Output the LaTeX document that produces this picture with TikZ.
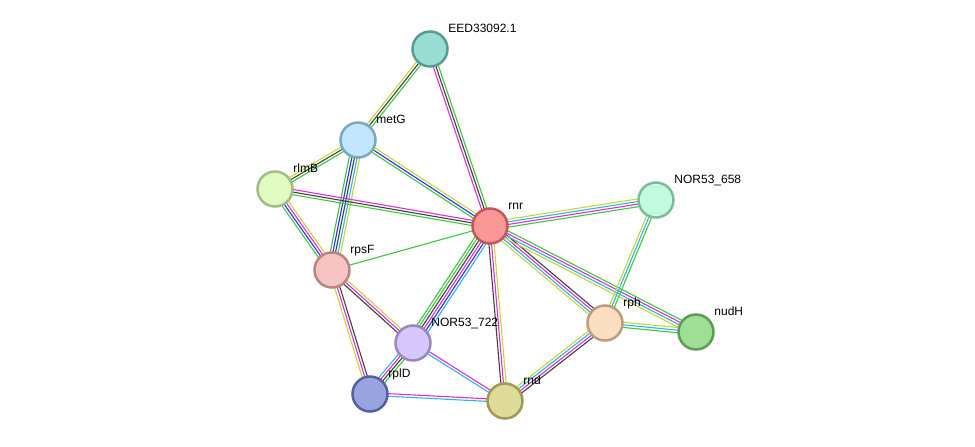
\documentclass[tikz,border=0pt]{standalone}
\usepackage{fontspec}
\setmainfont{Liberation Sans}
\usetikzlibrary{calc,backgrounds}

\definecolor{evgreen}{HTML}{3CC83C}
\definecolor{evyellow}{HTML}{C5D63A}
\definecolor{evblack}{HTML}{404040}
\definecolor{evmagenta}{HTML}{DC2EDC}
\definecolor{evcyan}{HTML}{2DB5E6}
\definecolor{evblue}{HTML}{2E2EF0}

% one coloured line per kind of evidence, side by side
\newcommand{\evlinks}[4]{%
  \foreach \col [count=\i] in {#4} {
    \pgfmathsetmacro\off{(\i-(#3+1)/2)*2.6}
    \draw[ev line, draw=\col] ($(#1)!\off pt!90:(#2)$) -- ($(#2)!\off pt!-90:(#1)$);
  }}

\begin{document}
\begin{tikzpicture}[x=1pt,y=-1pt,
    prot/.style={circle,minimum size=35pt,inner sep=0pt,line width=2.5pt},
    ev line/.style={line width=1.1pt},
    every label/.style={font=\fontsize{12}{14}\selectfont,inner sep=1pt,text depth=0pt,xshift=4pt,yshift=2pt}]
  \useasboundingbox (0,0) rectangle (975,447);

  \node[prot,fill={rgb,255:red,153;green,222;blue,213},draw={rgb,255:red,90;green,155;blue,147},label=45:EED33092.1] (eed) at (430,49) {};
  \node[prot,fill={rgb,255:red,194;green,230;blue,251},draw={rgb,255:red,123;green,167;blue,194},label=45:metG] (metg) at (358,140) {};
  \node[prot,fill={rgb,255:red,225;green,252;blue,192},draw={rgb,255:red,163;green,188;blue,132},label=45:rlmB] (rlmb) at (275,189) {};
  \node[prot,fill={rgb,255:red,252;green,151;blue,151},draw={rgb,255:red,192;green,87;blue,90},label=45:rnr] (rnr) at (490,226) {};
  \node[prot,fill={rgb,255:red,192;green,252;blue,221},draw={rgb,255:red,127;green,187;blue,153},label=45:NOR53\_658] (n658) at (656,200) {};
  \node[prot,fill={rgb,255:red,247;green,196;blue,196},draw={rgb,255:red,184;green,132;blue,132},label=45:rpsF] (rpsf) at (332,270) {};
  \node[prot,fill={rgb,255:red,214;green,198;blue,250},draw={rgb,255:red,154;green,135;blue,190},label=45:NOR53\_722] (n722) at (413,343) {};
  \node[prot,fill={rgb,255:red,252;green,223;blue,194},draw={rgb,255:red,187;green,158;blue,130},label=45:rph] (rph) at (605,323) {};
  \node[prot,fill={rgb,255:red,159;green,222;blue,150},draw={rgb,255:red,94;green,155;blue,86},label=45:nudH] (nudh) at (696,332) {};
  \node[prot,fill={rgb,255:red,152;green,163;blue,224},draw={rgb,255:red,85;green,96;blue,159},label=45:rplD] (rpld) at (370,394) {};
  \node[prot,fill={rgb,255:red,223;green,219;blue,153},draw={rgb,255:red,159;green,154;blue,85},label=45:rnd] (rnd) at (505,401) {};

  \begin{scope}[on background layer]
    \evlinks{eed}{metg}{3}{evyellow,evblack,evgreen}
    \evlinks{eed}{rnr}{3}{evmagenta,evblack,evgreen}
    \evlinks{metg}{rlmb}{3}{evyellow,evblack,evgreen}
    \evlinks{metg}{rnr}{3}{evgreen,evblue,evyellow}
    \evlinks{metg}{rpsf}{5}{evgreen,evblue,evblack,evcyan,evyellow}
    \evlinks{rlmb}{rnr}{3}{evgreen,evblack,evmagenta}
    \evlinks{rlmb}{rpsf}{4}{evgreen,evblue,evmagenta,evyellow}
    \evlinks{rpsf}{rnr}{1}{evgreen}
    \evlinks{rpsf}{n722}{3}{evblack,evmagenta,evyellow}
    \evlinks{rpsf}{rpld}{3}{evyellow,evmagenta,evblack}
    \evlinks{rnr}{n722}{6}{evgreen,evgreen,evblack,evmagenta,evblue,evcyan}
    \evlinks{rnr}{rnd}{3}{evblack,evmagenta,evyellow}
    \evlinks{rnr}{rph}{4}{evyellow,evcyan,evmagenta,evblack}
    \evlinks{rnr}{nudh}{4}{evyellow,evcyan,evmagenta,evgreen}
    \evlinks{rnr}{n658}{4}{evgreen,evmagenta,evcyan,evyellow}
    \evlinks{n722}{rpld}{4}{evcyan,evmagenta,evblack,evgreen}
    \evlinks{n722}{rnd}{2}{evcyan,evmagenta}
    \evlinks{rpld}{rnd}{2}{evcyan,evmagenta}
    \evlinks{rph}{rnd}{4}{evyellow,evcyan,evmagenta,evblack}
    \evlinks{rph}{nudh}{3}{evgreen,evcyan,evyellow}
    \evlinks{rph}{n658}{3}{evgreen,evcyan,evyellow}
  \end{scope}
\end{tikzpicture}
\end{document}
